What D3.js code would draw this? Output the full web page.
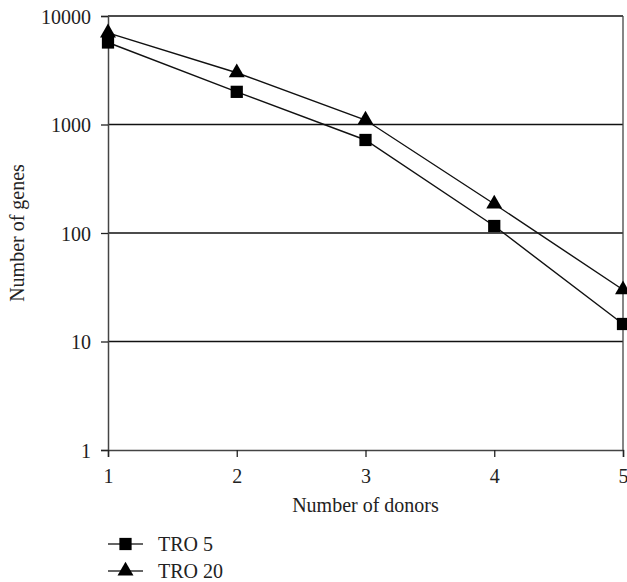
<!DOCTYPE html>
<html>
<head>
<meta charset="utf-8">
<script src="https://cdn.jsdelivr.net/npm/d3@7"></script>
<style>
  body { margin: 0; background: #fff; }
  svg { display: block; }
  text { font-family: "Liberation Serif", "DejaVu Serif", serif; fill: #222; }
</style>
</head>
<body>
<div class="chart"></div>
<script>
// values
var donors = [1, 2, 3, 4, 5];
var tro5 = [5700, 2000, 720, 116, 14.5];
var tro20 = [7000, 3000, 1100, 185, 30];
var yTicks = [1, 10, 100, 1000, 10000];
var seriesNames = ["TRO 5", "TRO 20"];

var width = 627, height = 582;
var margin = { left: 108, right: 4, top: 16, bottom: 132 };
var fs = 20;

var svg = d3.select(".chart").append("svg")
    .attr("width", width)
    .attr("height", height);

var x = d3.scaleLinear()
    .domain([1, 5])
    .range([margin.left, width - margin.right]);

var y = d3.scaleLog()
    .domain([1, 10000])
    .range([height - margin.bottom, margin.top]);

//gridlines
svg.append("g")
    .selectAll("line")
    .data(yTicks.slice(1))
    .join("line")
    .attr("x1", x(1))
    .attr("x2", x(5))
    .attr("y1", d => y(d))
    .attr("y2", d => y(d))
    .attr("stroke", "#111")
    .attr("stroke-width", 1.3);

// right border
svg.append("line")
    .attr("x1", x(5)).attr("x2", x(5))
    .attr("y1", y(10000)).attr("y2", y(1))
    .attr("stroke", "#444")
    .attr("stroke-width", 1.3);

//axes
var yAxis = svg.append("g")
    .attr("transform", `translate(${x(1)},0)`)
    .call(d3.axisLeft(y).tickValues(yTicks).tickFormat(d3.format("d")).tickSize(7).tickPadding(10));

var xAxis = svg.append("g")
    .attr("transform", `translate(0,${y(1)})`)
    .call(d3.axisBottom(x).tickValues(donors).tickFormat(d3.format("d")).tickSize(7).tickPadding(12));

[yAxis, xAxis].forEach(function (a) {
    a.attr("font-size", fs).attr("font-family", null);
    a.select(".domain").attr("stroke", "#444").attr("stroke-width", 1.5);
    a.selectAll(".tick line").attr("stroke", "#222").attr("stroke-width", 1.3);
    a.selectAll(".tick text").attr("fill", "#222");
});
yAxis.selectAll(".tick text").attr("dy", "0.35em");

//axis titles
svg.append("text")
    .attr("x", (x(1) + x(5)) / 2)
    .attr("y", 512)
    .attr("text-anchor", "middle")
    .attr("font-size", fs)
    .text("Number of donors");

svg.append("text")
    .attr("transform", `translate(24,${(y(1) + y(10000)) / 2}) rotate(-90)`)
    .attr("text-anchor", "middle")
    .attr("font-size", fs)
    .text("Number of genes");

//lines and markers
var line = d3.line()
    .x((d, i) => x(donors[i]))
    .y(d => y(d));

var square = d3.symbol().type(d3.symbolSquare).size(150);
var triangle = d3.symbol().type(d3.symbolTriangle).size(110);
var shapes = [square, triangle];

[tro5, tro20].forEach(function (vals, k) {
    svg.append("path")
        .datum(vals)
        .attr("fill", "none")
        .attr("stroke", "#111")
        .attr("stroke-width", 1.4)
        .attr("d", line);

    svg.append("g")
        .selectAll("path")
        .data(vals)
        .join("path")
        .attr("transform", (d, i) => `translate(${x(donors[i])},${y(d)})`)
        .attr("d", shapes[k])
        .attr("fill", "#000");
});

//legend
var legend = svg.append("g")
    .selectAll("g")
    .data(seriesNames)
    .join("g")
    .attr("transform", (d, i) => `translate(108,${544 + i * 27})`);

legend.append("line")
    .attr("x1", 0).attr("x2", 35)
    .attr("stroke", "#333")
    .attr("stroke-width", 1.4);

legend.append("path")
    .attr("transform", "translate(17.5,0)")
    .attr("d", (d, i) => shapes[i]())
    .attr("fill", "#000");

legend.append("text")
    .attr("x", 50)
    .attr("dy", "0.35em")
    .attr("font-size", fs)
    .text(d => d);
</script>
</body>
</html>
